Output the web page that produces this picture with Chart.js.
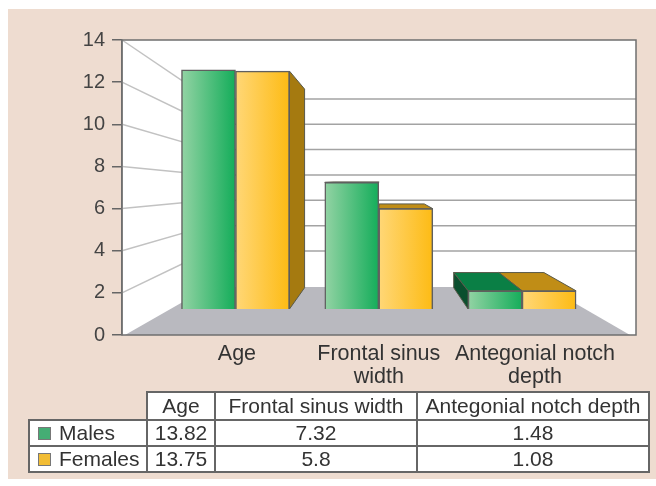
<!DOCTYPE html>
<html>
<head>
<meta charset="utf-8">
<title>Males and females</title>
<script src="https://cdn.jsdelivr.net/npm/chart.js@4/dist/chart.umd.min.js"></script>
<style>
html, body { margin: 0; padding: 0; background: #fff; }
#wrap { position: relative; width: 656px; height: 486px; overflow: hidden; }
canvas { position: absolute; left: 0; top: 0; }
#dataTable {
	position: absolute; left: 28px; top: 391px; width: 620px; height: 82px;
	border-collapse: collapse; table-layout: fixed;
	font: 21px "Liberation Sans", Arial, sans-serif; color: #333; text-align: center;
}
#dataTable td { border: 2px solid #666; padding: 0; white-space: nowrap; overflow: hidden; background: #fff; }
#dataTable td.blank { border-top: none; border-left: none; background: transparent; }
#dataTable td.name { text-align: left; padding-left: 8px; }
.key { display: inline-block; width: 11px; height: 11px; margin-right: 8px; border: 1px solid #777; }
</style>
</head>
<body>
<div id="wrap">
<canvas id="chart" width="656" height="486"></canvas>
<table id="dataTable">
	<colgroup><col style="width:118px"><col style="width:68px"><col style="width:202px"><col style="width:232px"></colgroup>
	<tbody id="tableBody"></tbody>
</table>
</div>
<script>
const categories = ["Age", "Frontal sinus width", "Antegonial notch depth"];
const category_lines = [["Age"], ["Frontal sinus", "width"], ["Antegonial notch", "depth"]];
const series_names = ["Males", "Females"];
// values printed in the table
const males_table = ["13.82", "7.32", "1.48"];
const females_table = ["13.75", "5.8", "1.08"];
// bar heights as drawn (the last male bar is drawn lower than its table value)
const males_bars = [13.82, 7.32, 1.05];
const females_bars = [13.75, 5.8, 1.05];
const y_ticks = [0, 2, 4, 6, 8, 10, 12, 14];
const label_positions = [0.01, 1, 2.09];

const green = ['#93d3a4', '#14ad5a'];
const yellow = ['#ffd777', '#fdbb14'];
const keys = ['#45ad74', '#f2bd35'];

// fake depth: every corner of a bar recedes toward one point
const depth = 0.165, vanish_x = 381, vanish_y = 180;
const backX = function(x) { return x + depth * (vanish_x - x); };
const backY = function(y) { return y + depth * (vanish_y - y); };

const quad = function(ctx, pts, fill) {
	ctx.beginPath();
	ctx.moveTo(pts[0][0], pts[0][1]);
	for (let i = 1; i < pts.length; i++) ctx.lineTo(pts[i][0], pts[i][1]);
	ctx.closePath();
	ctx.fillStyle = fill;
	ctx.fill();
	ctx.strokeStyle = '#5a5a4a';
	ctx.lineWidth = 1;
	ctx.stroke();
};

const roomPlugin = {
	id: 'room',
	beforeDraw: function(chart) {
		const c = chart.ctx, a = chart.chartArea;
		c.save();
		c.fillStyle = '#eedcd0';
		c.fillRect(8, 9, 648, 470);
		c.fillStyle = '#fff';
		c.fillRect(a.left, a.top, a.right - a.left, a.bottom - a.top);
		c.restore();
	},
	beforeDatasetsDraw: function(chart) {
		const c = chart.ctx, a = chart.chartArea;
		const yf = chart.scales.y, yb = chart.scales.yBack;
		const wall_x = 209, floor_y = 287;
		c.save();
		// wall lines, left wall is paler than the back one
		c.lineWidth = 1.5;
		y_ticks.slice(1).forEach(function(v) {
			c.strokeStyle = '#c2c2c2';
			c.beginPath();
			c.moveTo(a.left, yf.getPixelForValue(v));
			c.lineTo(wall_x, yb.getPixelForValue(v));
			c.stroke();
			c.strokeStyle = '#a3a3a3';
			c.beginPath();
			c.moveTo(wall_x, yb.getPixelForValue(v));
			c.lineTo(a.right, yb.getPixelForValue(v));
			c.stroke();
		});
		// floor
		c.beginPath();
		c.moveTo(125, a.bottom);
		c.lineTo(wall_x, floor_y);
		c.lineTo(547, floor_y);
		c.lineTo(630, a.bottom);
		c.closePath();
		c.fillStyle = '#b9b9bf';
		c.fill();
		// frame
		c.strokeStyle = '#6f6f6f';
		c.lineWidth = 1.5;
		c.strokeRect(a.left, a.top, a.right - a.left, a.bottom - a.top);
		// receding faces of the bars, females first so the male top sits over them
		[[1, '#c08d16', '#a57a10'], [0, '#0a7f45', '#0b4f2e']].forEach(function(f) {
			chart.getDatasetMeta(f[0]).data.forEach(function(bar) {
				const x0 = bar.x - bar.width / 2, x1 = bar.x + bar.width / 2;
				const top = bar.y, base = bar.base;
				const top_face = [[x0, top], [x1, top], [backX(x1), backY(top)], [backX(x0), backY(top)]];
				if (backY(top) < top) quad(c, top_face, f[1]);
				if (f[0] === 1 && backX(x1) > x1) quad(c, [[x1, top], [backX(x1), backY(top)], [backX(x1), backY(base)], [x1, base]], f[2]);
				if (f[0] === 0 && backX(x0) < x0) quad(c, [[x0, top], [backX(x0), backY(top)], [backX(x0), backY(base)], [x0, base]], f[2]);
			});
		});
		c.restore();
	}
};

const barGradient = function(cols, from, to) {
	return function(context) {
		const chart = context.chart, xs = chart.scales.x;
		const mid = xs ? xs.getPixelForValue(context.dataIndex) : NaN;
		if (!Number.isFinite(mid)) return cols[1];
		const g = chart.ctx.createLinearGradient(mid + from, 0, mid + to, 0);
		g.addColorStop(0, cols[0]);
		g.addColorStop(1, cols[1]);
		return g;
	};
};

const toPoints = function(values) {
	return values.map(function(v, i) { return { x: i, y: v }; });
};

const chart = new Chart(document.getElementById('chart'), {
	type: 'bar',
	data: {
		datasets: [
			{
				label: series_names[0],
				data: toPoints(males_bars),
				yAxisID: 'yBar',
				backgroundColor: barGradient(green, -54, 0),
				borderColor: '#5f5f5f',
				borderWidth: 1.5,
				barThickness: 54
			},
			{
				label: series_names[1],
				data: toPoints(females_bars),
				yAxisID: 'yBar',
				backgroundColor: barGradient(yellow, 0, 54),
				borderColor: '#5f5f5f',
				borderWidth: 1.5,
				barThickness: 54
			}
		]
	},
	options: {
		responsive: false,
		animation: false,
		layout: { padding: { left: 0, top: 40, right: 20, bottom: 0 } },
		plugins: { legend: { display: false }, tooltip: { enabled: false } },
		scales: {
			x: {
				type: 'linear',
				offset: false,
				min: -0.792,
				max: 2.795,
				grid: { display: false },
				border: { display: false },
				afterBuildTicks: function(axis) {
					axis.ticks = label_positions.map(function(v) { return { value: v }; });
				},
				afterFit: function(axis) { axis.height = 151; },
				ticks: {
					autoSkip: false,
					maxRotation: 0,
					padding: 0,
					color: '#333',
					font: { family: '"Liberation Sans"', size: 21.5, lineHeight: 1.05 },
					callback: function(v, i) { return category_lines[i]; }
				}
			},
			y: {
				min: 0,
				max: 14,
				afterBuildTicks: function(axis) {
					axis.ticks = y_ticks.map(function(v) { return { value: v }; });
				},
				afterFit: function(axis) { axis.width = 122; },
				grid: { drawOnChartArea: false, tickLength: 10, color: '#666', lineWidth: 1.5 },
				border: { color: '#6f6f6f', width: 1.5 },
				ticks: {
					padding: 7,
					color: '#444',
					font: { family: '"Liberation Sans"', size: 20 }
				}
			},
			// the bars stand further back than the axis, so they get a shorter unit
			yBar: { display: false, min: -1.503, max: 15.55 },
			// same thing for the lines on the back wall
			yBack: { display: false, min: -4.63, max: 18.65 }
		}
	},
	plugins: [roomPlugin]
});

const rows = [males_table, females_table];
let html = '<tr style="height:28px"><td class="blank"></td>';
categories.forEach(function(c) { html += '<td>' + c + '</td>'; });
html += '</tr>';
rows.forEach(function(row, r) {
	html += '<tr><td class="name"><span class="key" style="background:' + keys[r] + '"></span>' + series_names[r] + '</td>';
	row.forEach(function(v) { html += '<td>' + v + '</td>'; });
	html += '</tr>';
});
document.getElementById('tableBody').innerHTML = html;
</script>
</body>
</html>
